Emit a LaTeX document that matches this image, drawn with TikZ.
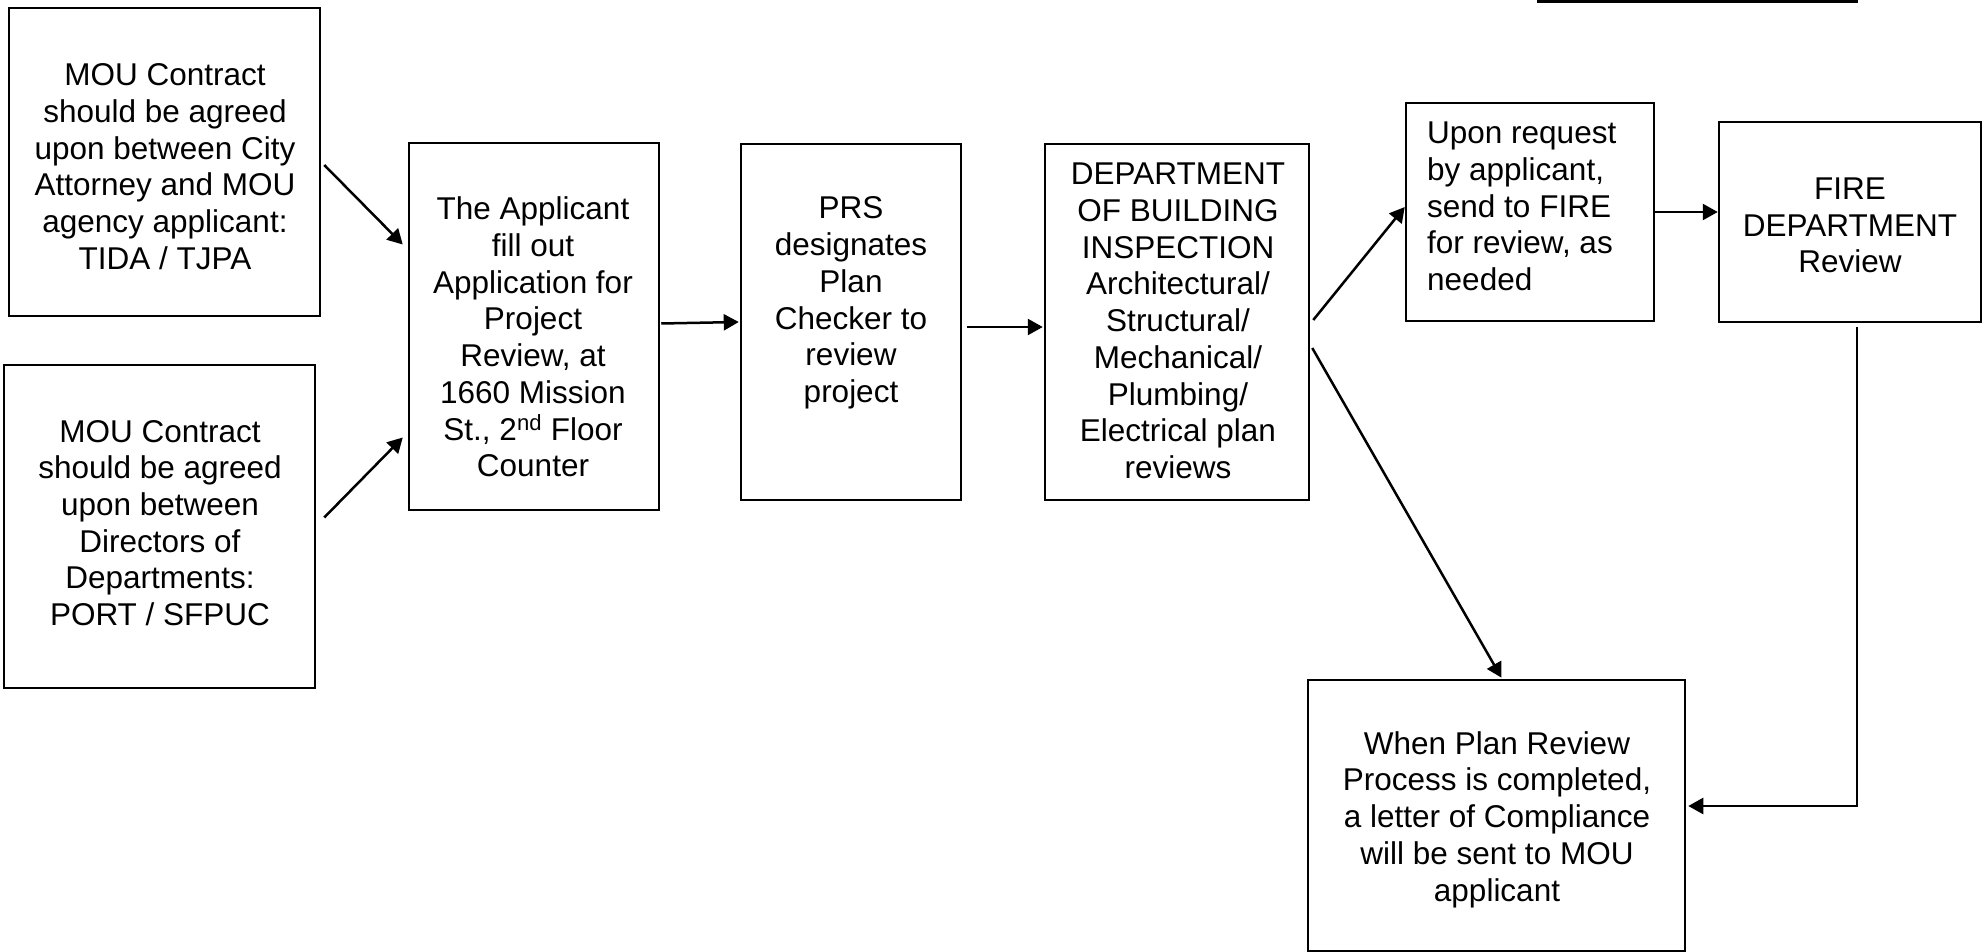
\documentclass[tikz,border=0pt]{standalone}
\usepackage{fontspec}
\setmainfont{Liberation Sans}
\usetikzlibrary{arrows.meta}
\begin{document}
\begin{tikzpicture}[x=1pt,y=-1pt,
  box/.style={draw, line width=2.5pt, inner sep=0pt},
  txt/.style={align=center, font=\fontsize{31.5}{36.7}\selectfont, inner sep=0pt},
  arr/.style={line width=2.5pt, -{Triangle[length=15pt,width=16pt]}}]
\useasboundingbox (0,0) rectangle (1986,952);
% boxes
\node[box, minimum width=311pt, minimum height=308pt] (A) at (164.5,162) {};
\node[box, minimum width=311pt, minimum height=323pt] (B) at (159.5,526.5) {};
\node[box, minimum width=250pt, minimum height=367pt] (C) at (534,326.5) {};
\node[box, minimum width=220pt, minimum height=356pt] (D) at (851,322) {};
\node[box, minimum width=264pt, minimum height=356pt] (E) at (1177,322) {};
\node[box, minimum width=248pt, minimum height=218pt] (F) at (1530,212) {};
\node[box, minimum width=262pt, minimum height=200pt] (G) at (1850,222) {};
\node[box, minimum width=377pt, minimum height=271pt] (H) at (1496.5,815.5) {};
% texts
\node[txt] (At) at (165,166.6) {MOU Contract\\should be agreed\\upon between City\\Attorney and MOU\\agency applicant:\\TIDA / TJPA};
\node[txt] (Bt) at (160,523) {MOU Contract\\should be agreed\\upon between\\Directors of\\Departments:\\PORT / SFPUC};
\node[txt] (Ct) at (533,337) {The Applicant\\fill out\\Application for\\Project\\Review, at\\1660 Mission\\St., 2\textsuperscript{nd} Floor\\Counter};
\node[txt] (Dt) at (851,303) {PRS\\designates\\Plan\\Checker to\\review\\project};
\node[txt] (Et) at (1178,321) {DEPARTMENT\\OF BUILDING\\INSPECTION\\Architectural/\\Structural/\\Mechanical/\\Plumbing/\\Electrical plan\\reviews};
\node[txt, align=left, anchor=west] (Ft) at (1427,206.5) {Upon request\\by applicant,\\send to FIRE\\for review, as\\needed};
\node[txt] (Gt) at (1850,225.5) {FIRE\\DEPARTMENT\\Review};
\node[txt] (Ht) at (1497,819.5) {When Plan Review\\Process is completed,\\a letter of Compliance\\will be sent to MOU\\applicant};
% connectors
\draw[arr] ([shift={(3,3)}]A.east) -- ([shift={(-5,-82)}]C.west);
\draw[arr] ([shift={(8,-9)}]B.east) -- ([shift={(-5,111)}]C.west);
\draw[arr] ([shift={(1,-3)}]C.east) -- ([shift={(-1,0)}]D.west);
\draw[arr] ([shift={(5,5)}]D.east) -- ([shift={(-1,5)}]E.west);
\draw[arr] ([shift={(3,-2)}]E.east) -- ([shift={(0,-5)}]F.west);
\draw[arr] ([shift={(2,26)}]E.east) -- ([shift={(5,-1)}]H.north);
\draw[arr] (F.east) -- ([shift={(0,-10)}]G.west);
\draw[arr] ([shift={(7,4)}]G.south) |- ([shift={(2,-9.5)}]H.east);
% partial line at top
\draw[line width=3pt] (1537,1.5) -- (1858,1.5);
\end{tikzpicture}
\end{document}
